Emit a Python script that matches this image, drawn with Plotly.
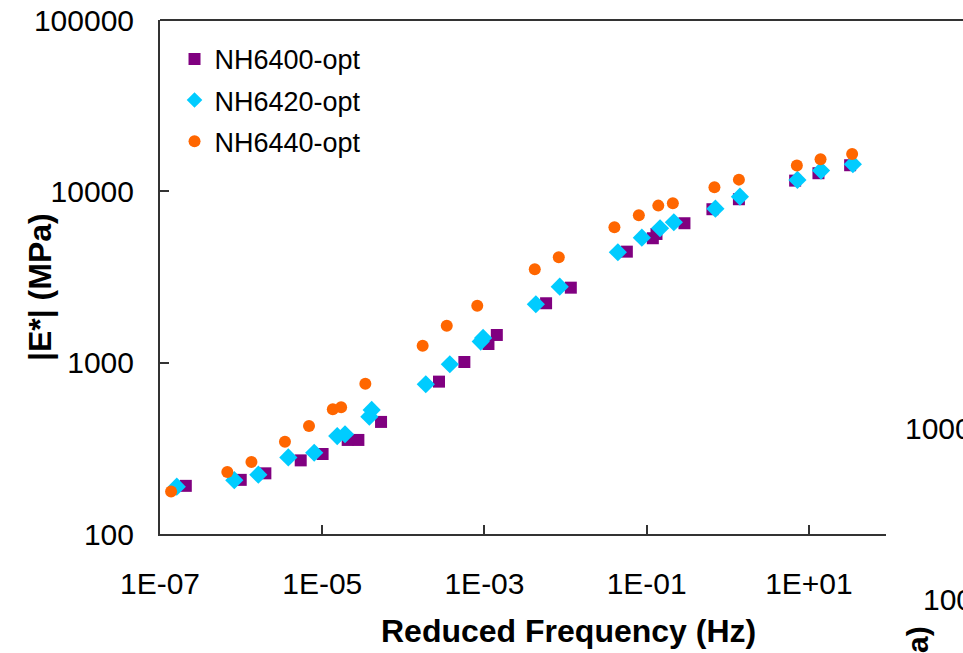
import plotly.graph_objects as go

# ---- data ----
freq_6400 = [2.08e-7, 9.89e-7, 1.99e-6, 5.43e-6, 1.01e-5, 2.06e-5, 2.79e-5, 5.31e-5,
             2.75e-4, 5.65e-4, 1.12e-3, 1.42e-3, 5.75e-3, 1.16e-2, 0.0569, 0.119, 0.132,
             0.292, 0.646, 1.37, 6.76, 13.1, 32.2]
e_6400 = [191, 207, 226, 269, 293, 354, 354, 451, 775, 1009, 1285, 1451, 2222, 2740,
          4446, 5324, 5638, 6513, 7863, 8993, 11548, 12757, 14205]

freq_6420 = [1.61e-7, 8.24e-7, 1.63e-6, 3.82e-6, 7.96e-6, 1.53e-5, 1.91e-5, 3.81e-5, 4.07e-5,
             1.89e-4, 3.74e-4, 8.99e-4, 9.62e-4, 4.30e-3, 8.47e-3, 0.0441, 0.0871, 0.146,
             0.216, 0.703, 1.41, 7.21, 14.1, 34.8]
e_6420 = [189, 206, 222, 280, 298, 373, 382, 484, 530, 748, 979, 1327, 1394, 2193, 2778,
          4411, 5367, 6089, 6601, 7926, 9313, 11657, 13213, 14396]

freq_6440 = [1.37e-7, 6.76e-7, 1.34e-6, 3.47e-6, 6.87e-6, 1.35e-5, 1.71e-5, 3.40e-5,
             1.73e-4, 3.43e-4, 8.15e-4, 4.17e-3, 8.24e-3, 0.0400, 0.0800, 0.139, 0.210,
             0.684, 1.37, 7.10, 13.9, 34.1]
e_6440 = [177, 230, 263, 346, 427, 535, 549, 754, 1257, 1644, 2152, 3510, 4124, 6170,
          7254, 8253, 8522, 10570, 11703, 14129, 15394, 16532]

x_tickvals = [1e-7, 1e-5, 1e-3, 1e-1, 1e1]
x_ticktext = ["1E-07", "1E-05", "1E-03", "1E-01", "1E+01"]
y_tickvals = [100, 1000, 10000, 100000]
y_ticktext = ["100", "1000", "10000", "100000"]

FONT = "Liberation Sans, Arial, sans-serif"

fig = go.Figure()
fig.add_trace(go.Scatter(x=freq_6400, y=e_6400, mode="markers", name="NH6400-opt",
                         legendgroup="a",
                         marker=dict(symbol="square", size=12, color="#800080")))
fig.add_trace(go.Scatter(x=freq_6420, y=e_6420, mode="markers", name="NH6420-opt",
                         legendgroup="b",
                         marker=dict(symbol="diamond", size=14, color="#00CCFF")))
fig.add_trace(go.Scatter(x=freq_6440, y=e_6440, mode="markers", name="NH6440-opt",
                         legendgroup="c",
                         marker=dict(symbol="circle", size=12, color="#FF6600")))

axis_common = dict(showline=True, linecolor="#333333", linewidth=2, ticks="inside",
                   ticklen=9, tickwidth=1.5, tickcolor="#333333", showgrid=False,
                   zeroline=False, automargin=False,
                   tickfont=dict(family=FONT, size=30, color="#000000"))

fig.update_xaxes(type="log", range=[-7, 1.95], tickvals=x_tickvals, ticktext=x_ticktext,
                 ticklabelstandoff=22, **axis_common)
fig.update_yaxes(type="log", range=[2, 5], tickvals=y_tickvals, ticktext=y_ticktext,
                 ticklabelstandoff=18, **axis_common)

fig.update_layout(
    width=963, height=653,
    margin=dict(l=160, r=77, t=20, b=119),
    plot_bgcolor="white", paper_bgcolor="white",
    showlegend=True,
    legend=dict(x=0.02, y=0.971, xanchor="left", yanchor="top",
                font=dict(family=FONT, size=27, color="#000000"),
                bgcolor="rgba(0,0,0,0)", traceorder="grouped", tracegroupgap=3,
                itemsizing="constant"),
    shapes=[dict(type="line", xref="paper", yref="paper", x0=0, x1=1.2, y0=1, y1=1,
                 line=dict(color="#333333", width=2))],
    annotations=[
        dict(text="<b>Reduced Frequency (Hz)</b>", xref="paper", yref="paper",
             x=(568 - 160) / 726, y=0, yshift=-97, xanchor="center", yanchor="middle",
             showarrow=False, font=dict(family=FONT, size=32, color="#000000")),
        dict(text="<b>|E*| (MPa)</b>", xref="paper", yref="paper",
             x=0, xshift=-120, y=(534 - 287) / 514, xanchor="center", yanchor="middle",
             textangle=-90, showarrow=False,
             font=dict(family=FONT, size=32, color="#000000")),
        dict(text="1000", xref="paper", yref="paper", x=(903 - 160) / 726,
             y=(534 - 428) / 514, xanchor="left", yanchor="middle", showarrow=False,
             font=dict(family=FONT, size=30, color="#000000")),
        dict(text="100", xref="paper", yref="paper", x=(921 - 160) / 726,
             y=(534 - 599) / 514, xanchor="left", yanchor="middle", showarrow=False,
             font=dict(family=FONT, size=30, color="#000000")),
        dict(text="<b>a)</b>", xref="paper", yref="paper", x=(917 - 160) / 726,
             y=(534 - 640) / 514, xanchor="center", yanchor="middle", textangle=-90,
             showarrow=False, font=dict(family=FONT, size=30, color="#000000")),
    ],
)

fig.write_html("out.html")
